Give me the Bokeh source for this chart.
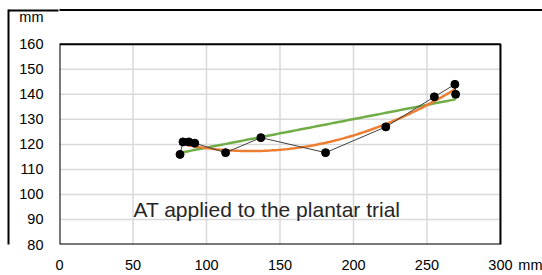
import numpy as np
from bokeh.plotting import figure
from bokeh.models import Label, FixedTicker, LinearAxis, Range1d
from bokeh.embed import file_html
from bokeh.resources import INLINE

# data
x_vals = [82, 84, 88, 92, 113, 137, 181, 222, 255, 269, 269.5]
y_vals = [116, 121, 121, 120.5, 116.7, 122.7, 116.7, 127, 139, 144, 140]
x_ticks = [0, 50, 100, 150, 200, 250, 300]
y_ticks = [80, 90, 100, 110, 120, 130, 140, 150, 160]
note = "AT applied to the plantar trial"
unit = "mm"
x_unit_pos = 321      # where the x unit text sits (data units)
y_unit_pos = 171.1    # where the y unit text sits (data units)
outer_top = 173.7     # outer frame line (data units)

# trend lines fitted to the data (as the spreadsheet does)
lin = np.polyfit(x_vals, y_vals, 1)
quad = np.polyfit(x_vals, y_vals, 2)
xt = np.linspace(min(x_vals), max(x_vals), 100)

x0, x1 = x_ticks[0], x_ticks[-1]
y0, y1 = y_ticks[0], y_ticks[-1]

p = figure(width=542, height=275, output_backend="svg", toolbar_location=None,
           x_range=Range1d(0, 328.6), y_range=Range1d(80, 177.5),
           min_border_left=59, min_border_right=0, min_border_top=0, min_border_bottom=29)
p.outline_line_color = None
p.background_fill_color = "white"
p.grid.grid_line_color = None

# axes
xa, ya = p.xaxis[0], p.yaxis[0]
for ax in (xa, ya):
    ax.axis_line_color = None
    ax.major_tick_line_color = None
    ax.minor_tick_line_color = None
    ax.major_tick_out = 0
    ax.major_tick_in = 0
    ax.major_label_text_font = "Liberation Sans"
    ax.major_label_text_font_size = "14.5px"
    ax.major_label_text_color = "black"
xa.ticker = FixedTicker(ticks=x_ticks + [x_unit_pos])
ya.ticker = FixedTicker(ticks=y_ticks + [y_unit_pos])
xa.major_label_overrides = {x_unit_pos: unit}
ya.major_label_overrides = {y_unit_pos: unit}
xa.major_label_standoff = 12
ya.major_label_standoff = 16
ya.axis_label = " "
ya.axis_label_text_font_size = "1px"
ya.axis_label_standoff = 4

# outer frame (left side and top-left corner) as an extra axis
edge = LinearAxis(ticker=FixedTicker(ticks=[outer_top]), axis_line_color="black",
                  axis_line_width=2, major_tick_line_color="black", major_tick_line_width=2,
                  major_tick_in=50, major_tick_out=0, minor_tick_line_color=None,
                  major_label_text_font_size="0px", major_label_standoff=0,
                  major_label_overrides={outer_top: ""}, bounds=(80, outer_top + 0.01))
p.add_layout(edge, "left")

# grid
p.segment(x0=x_ticks, y0=[y0] * len(x_ticks), x1=x_ticks, y1=[y1] * len(x_ticks),
          line_color="#d9d9d9", line_width=1.5)
p.segment(x0=[x0] * len(y_ticks), y0=y_ticks, x1=[x1] * len(y_ticks), y1=y_ticks,
          line_color="#d9d9d9", line_width=1.5)
# plot area border
p.quad(left=[x0], right=[x1], bottom=[y0], top=[y1], fill_color=None,
       line_color="black", line_width=2)
# outer frame top line
p.segment(x0=[-100], y0=[outer_top], x1=[400], y1=[outer_top], line_color="black", line_width=2)

p.line(xt, np.polyval(lin, xt), line_color="#70ad47", line_width=2.5)
p.line(xt, np.polyval(quad, xt), line_color="#ed7d31", line_width=2.5)
p.line(x_vals, y_vals, line_color="#404040", line_width=1)
p.scatter(x_vals, y_vals, size=8, color="black")

p.add_layout(Label(x=50.3, y=94.1, text=note, text_font="Liberation Sans",
                   text_font_size="21px", text_color="#262626", text_baseline="alphabetic"))

open("out.html", "w").write(file_html(p, INLINE))
